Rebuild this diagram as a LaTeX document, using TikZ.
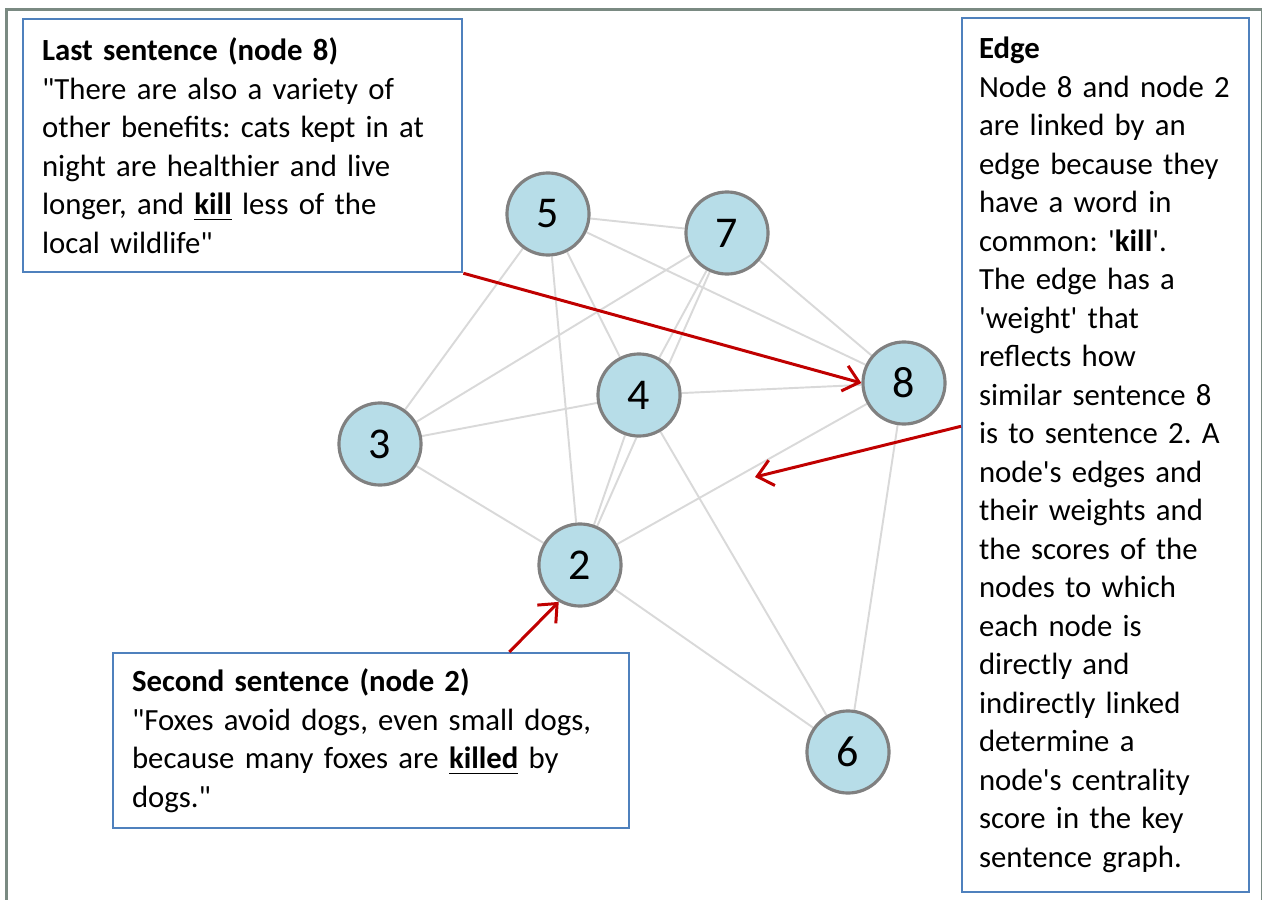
\documentclass[tikz,border=0pt]{standalone}
\usepackage{fontspec}
\setmainfont{Carlito}[Ligatures=TeXOff]
\frenchspacing
\usetikzlibrary{arrows.meta,backgrounds}
\definecolor{framegray}{rgb}{0.478,0.541,0.510}
\definecolor{nodeblue}{rgb}{0.718,0.867,0.910}
\definecolor{nodegray}{rgb}{0.5,0.5,0.5}
\definecolor{edgegray}{rgb}{0.85,0.85,0.85}
\definecolor{boxblue}{rgb}{0.310,0.506,0.741}
\definecolor{arrowred}{rgb}{0.753,0,0}
\begin{document}
\begin{tikzpicture}[x=0.01cm,y=-0.01cm,
  sent/.style={circle,draw=nodegray,line width=0.9pt,fill=nodeblue,minimum size=0.82cm,inner sep=0pt,font=\fontsize{12.5}{14}\selectfont},
  note/.style={draw=boxblue,line width=0.6pt,fill=white,anchor=north west,align=left,inner xsep=0.19cm,inner ysep=0pt,font=\fontsize{8.75}{10.95}\selectfont},
  link/.style={draw=edgegray,line width=0.55pt},
  pointer/.style={draw=arrowred,line width=0.85pt,-{Straight Barb[length=0.15cm,width=0.26cm]}}]
\useasboundingbox (0,0) rectangle (1263,900);
\draw[framegray,line width=0.85pt] (6.5,900) -- (6.5,9.5) -- (1261.5,9.5);
\draw[framegray,line width=0.5pt] (1261.5,9.5) -- (1261.5,900);

\foreach \n/\x/\y in {2/580/565,3/380/444,4/639/395,5/548/214,6/848/752,7/727/233,8/904/383}
	\node[sent] (n\n) at (\x,\y) {\n};
\begin{scope}[on background layer]
\foreach \a/\b in {5/7,5/8,5/3,5/2,5/4,7/3,7/4,7/2,7/8,4/8,4/3,4/6,4/2,3/2,2/8,2/6,8/6}
	\draw[link] (n\a) -- (n\b);
\end{scope}

\node[note,text width=4.01cm,minimum height=2.53cm] (lastbox) at (22,18) {\textbf{Last sentence (node 8)}\\"There are also a variety of\\other benefits: cats kept in at\\night are healthier and live\\longer, and \underline{\textbf{kill}} less of the\\local wildlife"};
\node[note,text width=4.78cm,minimum height=1.75cm] (secondbox) at (112,652) {\textbf{Second sentence (node 2)}\\"Foxes avoid dogs, even small dogs,\\because many foxes are \underline{\textbf{killed}} by\\dogs."};
\node[note,inner xsep=0.17cm,text width=2.53cm,minimum height=8.73cm] (edgebox) at (961,17) {\textbf{Edge}\\Node 8 and node 2\\are linked by an\\edge because they\\have a word in\\common: '\textbf{kill}'.\\The edge has a\\'weight' that\\reflects how\\similar sentence 8\\is to sentence 2. A\\node's edges and\\their weights and\\the scores of the\\nodes to which\\each node is\\directly and\\indirectly linked\\determine a\\node's centrality\\score in the key\\sentence graph.};

\coordinate (mid) at (755,477);
\draw[pointer] (lastbox.south east) -- (n8.west);
\draw[pointer] ([yshift=0.285cm]edgebox.west) -- (mid);
\draw[pointer] ([xshift=1.38cm]secondbox.north) -- (n2.240);

\end{tikzpicture}
\end{document}
